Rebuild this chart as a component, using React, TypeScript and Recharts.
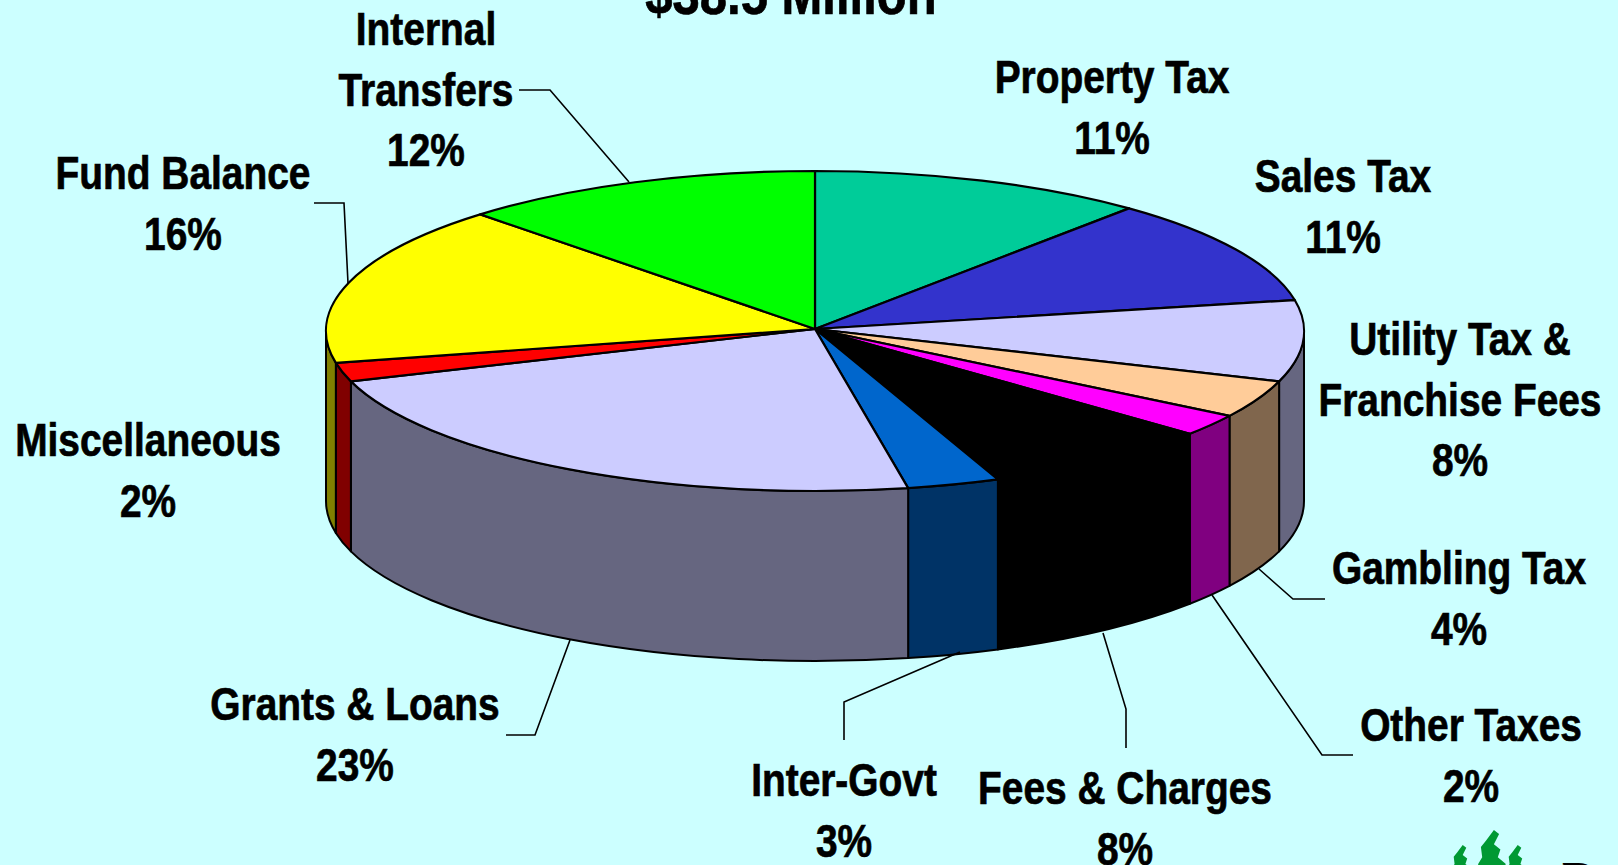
import { Pie, PieChart } from "recharts"

const categories = [
  "Property Tax", "Sales Tax", "Utility Tax & Franchise Fees", "Gambling Tax", "Other Taxes", "Fees & Charges",
  "Inter-Govt", "Grants & Loans", "Miscellaneous", "Fund Balance", "Internal Transfers",
]
const shares = [11.1, 10.8, 8.2, 3.8, 2.2, 7.8, 3.05, 22.95, 1.9, 16.2, 12]
const percentLabels = ["11%", "11%", "8%", "4%", "2%", "8%", "3%", "23%", "2%", "16%", "12%"]
const colors = [
  "#00CC99", "#3333CC", "#CCCCFF", "#FFCC99", "#FF00FF", "#000000",
  "#0066CC", "#CCCCFF", "#FF0000", "#FFFF00", "#00FF00",
]

const data = categories.map((name, i) => ({ name, value: shares[i], percent: percentLabels[i], fill: colors[i] }))

// label layout, one entry per slice
const labelLines = [
  ["Property Tax"], ["Sales Tax"], ["Utility Tax &", "Franchise Fees"], ["Gambling Tax"], ["Other Taxes"], ["Fees & Charges"],
  ["Inter-Govt"], ["Grants & Loans"], ["Miscellaneous"], ["Fund Balance"], ["Internal", "Transfers"],
]
const labelX = [1112, 1343, 1460, 1459, 1471, 1125, 844, 355, 148, 183, 426]
const labelY = [93, 192, 355, 584, 741, 804, 796, 720, 456, 189, 45]
const leaders: (string | null)[] = [
  null,
  null,
  null,
  "M1259 569L1293 599L1325 599",
  "M1212 595L1322 755L1353 755",
  "M1103 633L1126 709L1126 748",
  "M960 652L844 702L844 740",
  "M570 640L535 735L506 735",
  null,
  "M314 203L344 203L348 283",
  "M519 90L550 90L629 182",
]

const RY = 160
const DEPTH = 170
const APEX_LIFT = 2 // the slices meet slightly above the ellipse centre in the original
const LINE_GAP = 60.5
const TEXT_SCALE = 0.845
const RAD = Math.PI / 180

function darken(hex: string) {
  const n = parseInt(hex.slice(1), 16)
  const half = (v: number) => Math.round(v / 2).toString(16).padStart(2, "0")
  return `#${half((n >> 16) & 255)}${half((n >> 8) & 255)}${half(n & 255)}`
}

function Slice3D(props: any) {
  const { cx, cy, outerRadius: rx, startAngle, endAngle, fill } = props
  const px = (a: number) => cx + rx * Math.cos(a * RAD)
  const py = (a: number) => cy - RY * Math.sin(a * RAD)
  const large = startAngle - endAngle > 180 ? 1 : 0
  const top = `M${cx} ${cy - APEX_LIFT}L${px(startAngle)} ${py(startAngle)}A${rx} ${RY} 0 ${large} 1 ${px(endAngle)} ${py(endAngle)}Z`

  // only the part of the rim facing the viewer gets a wall
  const hi = Math.min(startAngle, 0)
  const lo = Math.max(endAngle, -180)
  let wall = null
  if (hi > lo) {
    const d =
      `M${px(hi)} ${py(hi)}A${rx} ${RY} 0 0 1 ${px(lo)} ${py(lo)}` +
      `L${px(lo)} ${py(lo) + DEPTH}A${rx} ${RY} 0 0 0 ${px(hi)} ${py(hi) + DEPTH}Z`
    wall = <path d={d} fill={darken(fill)} stroke="#000" strokeWidth={2} strokeLinejoin="round" />
  }
  return (
    <g>
      {wall}
      <path d={top} fill={fill} stroke="#000" strokeWidth={2.2} strokeLinejoin="round" />
    </g>
  )
}

function BoldText({ x, y, children, size = 46 }: any) {
  return (
    <text
      transform={`translate(${x} ${y}) scale(${TEXT_SCALE} 1)`}
      textAnchor="middle"
      fontFamily="Liberation Sans, Arial, sans-serif"
      fontWeight={700}
      fontSize={size}
      fill="#000"
      stroke="#000"
      strokeWidth={0.7}
    >
      {children}
    </text>
  )
}

function renderLabel(props: any) {
  const i = props.index
  const lines = [...labelLines[i], percentLabels[i]]
  return (
    <g key={categories[i]}>
      {lines.map((line, k) => (
        <BoldText key={k} x={labelX[i]} y={labelY[i] + k * LINE_GAP}>
          {line}
        </BoldText>
      ))}
    </g>
  )
}

function renderLeader(props: any) {
  const d = leaders[props.index]
  return d ? <path key={props.index} d={d} fill="none" stroke="#000" strokeWidth={1.6} /> : <g key={props.index} />
}

function Tree({ x, y, s = 1 }: any) {
  return (
    <path
      transform={`translate(${x} ${y}) scale(${s})`}
      d="M3 0L7 3L3 11L8 15L6 21L12 26L12 40L-12 40L-9 26L-6 21L-7 13L-3 8Z"
      fill="#009933"
    />
  )
}

export default function App() {
  return (
    <div style={{ position: "fixed", left: 0, top: 0, width: 1618, height: 865, background: "#CCFFFF", overflow: "hidden" }}>
      <PieChart width={1618} height={865} margin={{ top: 0, right: 0, bottom: 0, left: 0 }}>
        <Pie
          data={data}
          dataKey="value"
          nameKey="name"
          cx={815}
          cy={331}
          innerRadius={0}
          outerRadius={489}
          startAngle={90}
          endAngle={-270}
          shape={Slice3D}
          label={renderLabel}
          labelLine={renderLeader}
          isAnimationActive={false}
        />
        <BoldText x={791} y={14} size={58}>
          $38.5 Million
        </BoldText>
        <Tree x={1460} y={845} s={0.9} />
        <Tree x={1490} y={830} s={1.3} />
        <Tree x={1515} y={845} s={0.9} />
        <text x={1562} y={895} fontFamily="Liberation Serif, serif" fontWeight={700} fontSize={48} fill="#000">
          D
        </text>
      </PieChart>
    </div>
  )
}
